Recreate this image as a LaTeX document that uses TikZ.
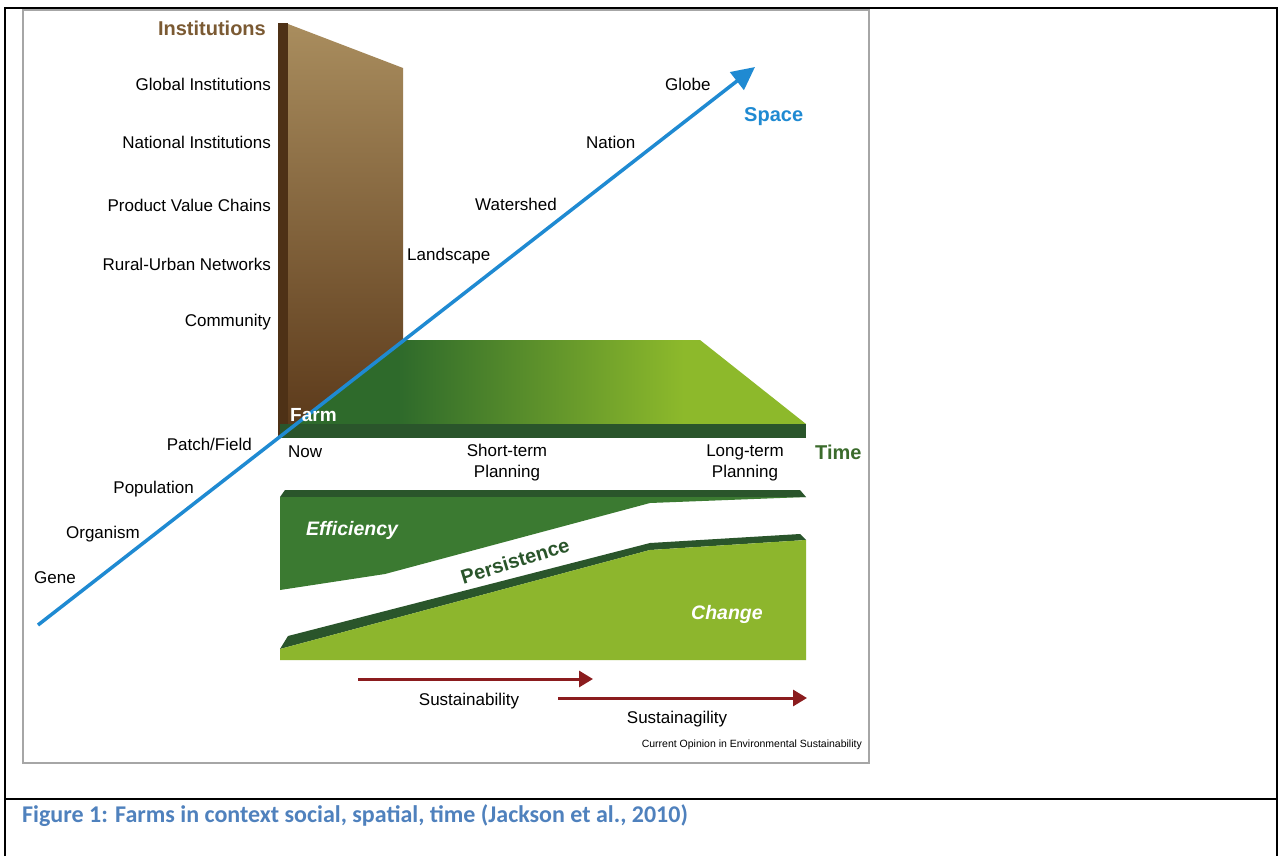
\documentclass[tikz,border=0pt]{standalone}
\usepackage{fontspec}
\setmainfont{Liberation Sans}
\newfontfamily\capfont{Carlito}
\usepackage{xcolor}
\usetikzlibrary{arrows.meta, positioning}

\definecolor{spaceblue}{HTML}{1F8AD2}
\definecolor{wallhigh}{HTML}{A98D5E}
\definecolor{walllow}{HTML}{5A3819}
\definecolor{wallside}{HTML}{4E3116}
\definecolor{instbrown}{HTML}{7B5A33}
\definecolor{farmdark}{HTML}{2E6A2B}
\definecolor{farmlight}{HTML}{8DB92B}
\definecolor{farmedge}{HTML}{2A552B}
\definecolor{effgreen}{HTML}{3B7A31}
\definecolor{chgreen}{HTML}{8DB62D}
\definecolor{timegreen}{HTML}{3B6B2C}
\definecolor{susred}{HTML}{8B1C1E}
\definecolor{capblue}{HTML}{4F81BD}

\pgfdeclarehorizontalshading{farmtop}{100bp}{color(0bp)=(farmdark); color(35bp)=(farmdark); color(63bp)=(farmlight); color(100bp)=(farmlight)}

\begin{document}
\begin{tikzpicture}[x=1pt, y=-1pt, font=\fontsize{17pt}{21pt}\selectfont,
	lbl/.style={inner sep=0pt},
	head/.style={inner sep=0pt, font=\fontsize{20pt}{22pt}\selectfont\bfseries},
	inblock/.style={inner sep=0pt, text=white, font=\fontsize{19.5pt}{22pt}\selectfont\bfseries\itshape},
	frameline/.style={line width=2.5pt, black},
	spacearrow/.style={line width=3.5pt, spaceblue, -{Triangle[length=23pt, width=22pt]}},
	susarrow/.style={line width=3pt, susred, -{Triangle[length=14pt, width=16pt]}}]
	\useasboundingbox (0, 0) rectangle (1281, 856);
	\fill [white] (0, 0) rectangle (1281, 856);

	\draw [frameline] (5, 856) -- (5, 8) -- (1277, 8) -- (1277, 856);
	\draw [frameline] (5, 799) -- (1277, 799);
	\draw [line width=2pt, gray!70] (23, 10) rectangle (869, 763);

	\shade [top color=wallhigh, bottom color=walllow] (288, 24) -- (403, 68) -- (403, 436) -- (288, 436) -- cycle;
	\fill [wallside] (278, 23) rectangle (288, 436);
	\shade [shading=farmtop] (403, 340) -- (700, 340) -- (806, 424) -- (296, 424) -- cycle;
	\fill [farmedge] (280, 424) rectangle (806, 438);

	\coordinate (spacestart) at (38, 625);
	\coordinate (spacetip) at (755, 67);
	\draw [spacearrow] (spacestart) -- (spacetip);

	\fill [farmedge] (285, 490) -- (800, 490) -- (806, 497) -- (280, 497) -- cycle;
	\fill [effgreen] (280, 497) -- (806, 497) -- (650, 503) -- (385, 574) -- (280, 590) -- cycle;
	\fill [farmedge] (288, 636) -- (650, 543) -- (800, 534) -- (806, 540) -- (650, 550) -- (280, 649) -- cycle;
	\fill [chgreen] (280, 649) -- (650, 550) -- (806, 540) -- (806, 660) -- (280, 660) -- cycle;

	\coordinate (susstart) at (358, 679);
	\coordinate (susend) at (593, 679);
	\coordinate (agilestart) at (558, 698);
	\coordinate (agileend) at (807, 698);
	\draw [susarrow] (susstart) -- (susend);
	\draw [susarrow] (agilestart) -- (agileend);

	\node [head, text=instbrown, anchor=east] (institutions) at (266, 28) {Institutions};
	\node [lbl, anchor=east] (global) at (271, 84) {Global Institutions};
	\node [lbl, anchor=east] (national) at (271, 142) {National Institutions};
	\node [lbl, anchor=east] (chains) at (271, 205) {Product Value Chains};
	\node [lbl, anchor=east] (networks) at (271, 264) {Rural-Urban Networks};
	\node [lbl, anchor=east] (community) at (271, 322) {Community};

	\node [lbl, anchor=east] (field) at (252, 444) {Patch/Field};
	\node [lbl, anchor=east] (population) at (194, 489) {Population};
	\node [lbl, anchor=east] (organism) at (140, 534) {Organism};
	\node [lbl, anchor=east] (gene) at (76, 578) {Gene};
	\node [lbl, anchor=west] (landscape) at (407, 256) {Landscape};
	\node [lbl, anchor=west] (watershed) at (475, 204) {Watershed};
	\node [lbl, anchor=west] (nation) at (586, 142) {Nation};
	\node [lbl, anchor=west] (globe) at (665, 84) {Globe};
	\node [head, text=spaceblue, anchor=west] (space) at (744, 117) {Space};

	\node [head, text=white, font=\fontsize{19pt}{22pt}\selectfont\bfseries, anchor=west] (farm) at (290, 415) {Farm};
	\node [lbl, anchor=west] (now) at (288, 452) {Now};
	\node [lbl, align=center] (short) at (507, 463) {Short-term\\Planning};
	\node [lbl, align=center] (long) at (745, 463) {Long-term\\Planning};
	\node [head, text=timegreen, anchor=west] (time) at (815, 452) {Time};

	\node [inblock, anchor=west] (efficiency) at (306, 530) {Efficiency};
	\node [head, text=farmedge, rotate=17] (persistence) at (515, 561) {Persistence};
	\node [inblock, anchor=west] (change) at (691, 614) {Change};

	\node [lbl] (sustainability) at (469, 701) {Sustainability};
	\node [lbl] (sustainagility) at (677, 719) {Sustainagility};
	\node [lbl, anchor=east, font=\fontsize{10.5pt}{12pt}\selectfont] (journal) at (862, 745) {Current Opinion in Environmental Sustainability};

	\node [lbl, anchor=west, text=capblue, font=\capfont\fontsize{24pt}{28pt}\selectfont\bfseries] (caption) at (22, 816) {Figure 1: Farms in context social, spatial, time (Jackson et al., 2010)};
\end{tikzpicture}
\end{document}
